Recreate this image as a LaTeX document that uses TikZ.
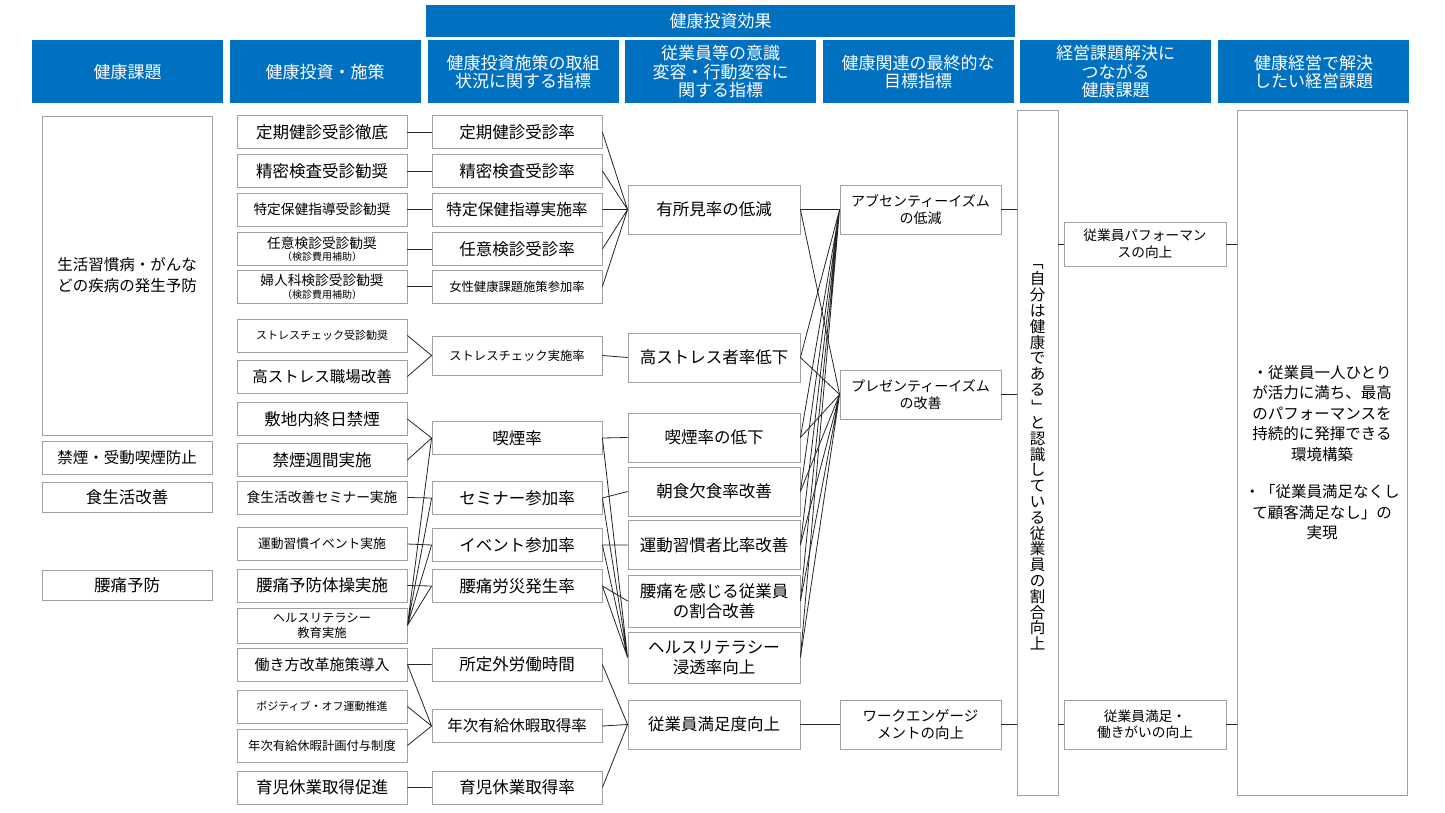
\documentclass[tikz,border=0pt]{standalone}
\usepackage{fontspec}
\setmainfont{Noto Sans CJK JP}
\usepackage{graphicx}
\usepackage{tikz}
\usetikzlibrary{positioning,calc}
\definecolor{hdrblue}{RGB}{0,112,192}
\definecolor{boxgray}{RGB}{160,160,160}

\tikzset{
  hdr/.style={fill=hdrblue, text=white, minimum width=191, minimum height=63, inner sep=0, align=center, font=\fontsize{17}{18.5}\selectfont},
  box/.style={draw=boxgray, fill=white, line width=0.8pt, minimum width=170, minimum height=33, inner sep=0, align=center, font=\fontsize{16.5}{20}\selectfont},
  mid/.style={font=\fontsize{13.7}{16.5}\selectfont},
  sm/.style={font=\fontsize{12.3}{15}\selectfont},
  xs/.style={font=\fontsize{11}{14}\selectfont},
  link/.style={draw=black!85, line width=0.8pt},
}
\newcommand{\note}[1]{{\fontsize{10}{11}\selectfont #1}}

\begin{document}
\begin{tikzpicture}[x=1pt,y=-1pt]
    \useasboundingbox[fill=white] (0,0) rectangle (1445,813);

    % Header row
    \node[hdr, minimum width=589, minimum height=32] (top) at (720.5,21) {健康投資効果};
    \node[hdr] (h1) at (127.5,72) {健康課題};
    \node[hdr] (h2) at (325,72) {健康投資・施策};
    \node[hdr] (h3) at (523,72) {健康投資施策の取組\\状況に関する指標};
    \node[hdr] (h4) at (720.5,72) {従業員等の意識\\変容・行動変容に\\関する指標};
    \node[hdr] (h5) at (918,72) {健康関連の最終的な\\目標指標};
    \node[hdr] (h6) at (1115.5,72) {経営課題解決に\\つながる\\健康課題};
    \node[hdr] (h7) at (1313.5,72) {健康経営で解決\\したい経営課題};

    % Health issues
    \node[box, font=\fontsize{15.5}{21}\selectfont, minimum height=319] (c1) at (127,275.5) {生活習慣病・がんな\\どの疾病の発生予防};
    \node[box, font=\fontsize{15.5}{19}\selectfont] (c2) at (127,457.5) {禁煙・受動喫煙防止};
    \node[box, minimum height=30] (c3) at (127,497.5) {食生活改善};
    \node[box, minimum height=30] (c4) at (127,585) {腰痛予防};

    % Measures
    \node[box] (a1) at (322,132) {定期健診受診徹底};
    \node[box] (a2) at (322,171) {精密検査受診勧奨};
    \node[box, mid] (a3) at (322,209.5) {特定保健指導受診勧奨};
    \node[box, mid] (a4) at (322,249) {任意検診受診勧奨\\[-4pt]\note{（検診費用補助）}};
    \node[box, mid] (a5) at (322,286.5) {婦人科検診受診勧奨\\[-4pt]\note{（検診費用補助）}};
    \node[box, xs] (a6) at (322,335.5) {ストレスチェック受診勧奨};
    \node[box, font=\fontsize{15.5}{19}\selectfont] (a7) at (322,376.5) {高ストレス職場改善};
    \node[box] (a8) at (322,419) {敷地内終日禁煙};
    \node[box] (a9) at (322,460) {禁煙週間実施};
    \node[box, mid] (a10) at (322,497.5) {食生活改善セミナー実施};
    \node[box, font=\fontsize{12.8}{15}\selectfont] (a11) at (322,544) {運動習慣イベント実施};
    \node[box] (a12) at (322,585.5) {腰痛予防体操実施};
    \node[box, sm, minimum height=35] (a13) at (322,625.5) {ヘルスリテラシー\\教育実施};
    \node[box, font=\fontsize{15}{19}\selectfont] (a14) at (322,664.5) {働き方改革施策導入};
    \node[box, xs] (a15) at (322,706.5) {ポジティブ・オフ運動推進};
    \node[box, sm] (a16) at (322,745.5) {年次有給休暇計画付与制度};
    \node[box] (a17) at (322,787.5) {育児休業取得促進};

    % Measure indicators
    \node[box] (b1) at (517,132) {定期健診受診率};
    \node[box] (b2) at (517,171) {精密検査受診率};
    \node[box, font=\fontsize{15.7}{19}\selectfont] (b3) at (517,209.5) {特定保健指導実施率};
    \node[box] (b4) at (517,249) {任意検診受診率};
    \node[box, sm] (b5) at (517,286.5) {女性健康課題施策参加率};
    \node[box, sm, minimum height=39] (b6) at (517,355.5) {ストレスチェック実施率};
    \node[box] (b7) at (517,438) {喫煙率};
    \node[box] (b8) at (517,498) {セミナー参加率};
    \node[box] (b9) at (517,545) {イベント参加率};
    \node[box] (b10) at (517,586) {腰痛労災発生率};
    \node[box] (b11) at (517,664.5) {所定外労働時間};
    \node[box, font=\fontsize{15.5}{19}\selectfont] (b12) at (517,726) {年次有給休暇取得率};
    \node[box] (b13) at (517,787.5) {育児休業取得率};

    % Awareness / behaviour indicators
    \node[box, minimum width=172, minimum height=49] (d1) at (714,209.5) {有所見率の低減};
    \node[box, minimum width=172, minimum height=49] (d2) at (714,357.5) {高ストレス者率低下};
    \node[box, minimum width=172, minimum height=49] (d3) at (714,437.5) {喫煙率の低下};
    \node[box, minimum width=172, minimum height=49] (d4) at (714,491.5) {朝食欠食率改善};
    \node[box, minimum width=172, minimum height=49] (d5) at (714,545) {運動習慣者比率改善};
    \node[box, minimum width=172, minimum height=52] (d6) at (714,601) {腰痛を感じる従業員\\の割合改善};
    \node[box, minimum width=172, minimum height=51] (d7) at (714,657.5) {ヘルスリテラシー\\浸透率向上};
    \node[box, minimum width=172, minimum height=49] (d8) at (714,724.5) {従業員満足度向上};

    % Final goals
    \node[box, font=\fontsize{14}{17}\selectfont, minimum width=161, minimum height=49] (e1) at (920.5,209.5) {アブセンティーイズム\\の低減};
    \node[box, font=\fontsize{14}{17}\selectfont, minimum width=161, minimum height=49] (e2) at (920.5,394.5) {プレゼンティーイズム\\の改善};
    \node[box, font=\fontsize{14.5}{17}\selectfont, minimum width=161, minimum height=49] (e3) at (920.5,724.5) {ワークエンゲージ\\メントの向上};

    % Health issues tied to business
    \node[box, minimum width=41, minimum height=685, font=\fontsize{15.5}{15.8}\selectfont] (t) at (1037.5,452.5)
      {\rotatebox[origin=c]{-90}{「}\\自\\分\\は\\健\\康\\で\\あ\\る\\\rotatebox[origin=c]{-90}{」}\\と\\認\\識\\し\\て\\い\\る\\従\\業\\員\\の\\割\\合\\向\\上};
    \node[box, mid, minimum width=162, minimum height=44] (f1) at (1145,244) {従業員パフォーマン\\スの向上};
    \node[box, mid, minimum width=162, minimum height=49] (f2) at (1145,724.5) {従業員満足・\\働きがいの向上};

    % Business issues
    \node[box, minimum height=685, font=\fontsize{15.5}{20.5}\selectfont] (g) at (1322,452.5)
      {・従業員一人ひとり\\が活力に満ち、最高\\のパフォーマンスを\\持続的に発揮できる\\環境構築\\[17pt]
       ・「従業員満足なくし\\て顧客満足なし」の\\実現};

    % Measures to indicators
    \draw[link] (a1.east) -- (b1.west) (a2.east) -- (b2.west) (a3.east) -- (b3.west)
                (a4.east) -- (b4.west) (a5.east) -- (b5.west);
    \draw[link] (a6.east) -- (b6.west) (a7.east) -- (b6.west);
    \draw[link] (a8.east) -- (b7.west) (a9.east) -- (b7.west);
    \draw[link] (a10.east) -- (b8.west) (a11.east) -- (b9.west) (a12.east) -- (b10.west);
    \draw[link] (a13.east) -- (b7.west) (a13.east) -- (b8.west) (a13.east) -- (b9.west) (a13.east) -- (b10.west);
    \draw[link] (a14.east) -- (b11.west) (a14.east) -- (b12.west) (a15.east) -- (b12.west)
                (a16.east) -- (b12.west) (a17.east) -- (b13.west);

    % Indicators to awareness
    \draw[link] (b1.east) -- (d1.west) (b2.east) -- (d1.west) (b3.east) -- (d1.west)
                (b4.east) -- (d1.west) (b5.east) -- (d1.west);
    \draw[link] (b6.east) -- (d2.west);
    \draw[link] (b7.east) -- (d3.west) (b8.east) -- (d4.west) (b9.east) -- (d5.west) (b10.east) -- (d6.west);
    \draw[link] (b7.east) -- (d7.west) (b8.east) -- (d7.west) (b9.east) -- (d7.west) (b10.east) -- (d7.west);
    \draw[link] (b11.east) -- (d8.west) (b12.east) -- (d8.west) (b13.east) -- (d8.west);

    % Awareness to goals
    \draw[link] (d1.east) -- (e1.west) (d1.east) -- (e2.west);
    \draw[link] (d2.east) -- (e1.west) (d3.east) -- (e1.west) (d4.east) -- (e1.west)
                (d5.east) -- (e1.west) (d6.east) -- (e1.west) (d7.east) -- (e1.west);
    \draw[link] (d2.east) -- (e2.west) (d3.east) -- (e2.west) (d4.east) -- (e2.west)
                (d5.east) -- (e2.west) (d6.east) -- (e2.west) (d7.east) -- (e2.west);
    \draw[link] (d8.east) -- (e3.west);

    % Goals to business
    \draw[link] (e1.east) -- (e1.east -| t.west) (e2.east) -- (e2.east -| t.west) (e3.east) -- (e3.east -| t.west);
    \draw[link] (f1.west -| t.east) -- (f1.west) (f2.west -| t.east) -- (f2.west);
    \draw[link] (f1.east) -- (f1.east -| g.west) (f2.east) -- (f2.east -| g.west);
\end{tikzpicture}
\end{document}
